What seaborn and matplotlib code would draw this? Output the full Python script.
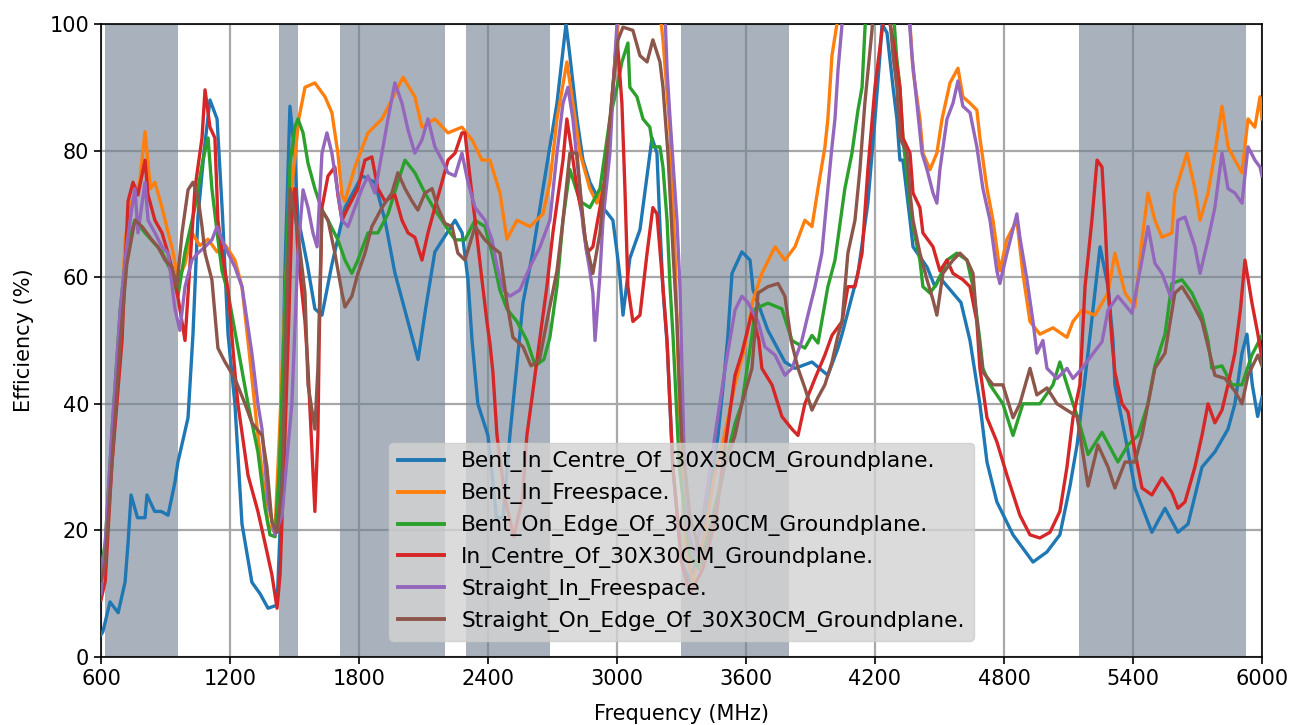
import pandas as pd
import matplotlib
matplotlib.use('Agg')
import matplotlib.pyplot as plt
import seaborn as sns

# Series names (as in the legend)
names = ['Bent_In_Centre_Of_30X30CM_Groundplane.',
         'Bent_In_Freespace.',
         'Bent_On_Edge_Of_30X30CM_Groundplane.',
         'In_Centre_Of_30X30CM_Groundplane.',
         'Straight_In_Freespace.',
         'Straight_On_Edge_Of_30X30CM_Groundplane.']

# Shaded frequency bands (MHz)
band_lo = [617, 1427, 1710, 2300, 3300, 5150]
band_hi = [960, 1518, 2200, 2690, 3800, 5925]

# Efficiency traces: frequency (MHz) / efficiency (%)
bent_centre_f = [600, 609, 642, 680, 712, 726, 740, 770, 805, 814, 850, 880, 912, 944, 958, 1005, 1028, 1051, 1080, 1107,
                 1140, 1165, 1191, 1223, 1256, 1302, 1340, 1377, 1419, 1433, 1455, 1479, 1500, 1516, 1560, 1595, 1628, 1674, 1735, 1814,
                 1874, 1921, 1967, 2028, 2075, 2110, 2153, 2247, 2280, 2307, 2326, 2353, 2400, 2440, 2470, 2502, 2563, 2609, 2656, 2721,
                 2763, 2781, 2814, 2842, 2874, 2935, 2981, 3000, 3014, 3028, 3060, 3107, 3140, 3163, 3186, 3200, 3214, 3233, 3260, 3300,
                 3340, 3400, 3470, 3502, 3516, 3535, 3581, 3619, 3633, 3702, 3781, 3828, 3907, 3981, 4028, 4047, 4121, 4167, 4200, 4223,
                 4233, 4256, 4284, 4302, 4316, 4330, 4363, 4377, 4442, 4479, 4500, 4550, 4600, 4642, 4688, 4721, 4767, 4842, 4935, 5000,
                 5060, 5107, 5140, 5163, 5191, 5247, 5284, 5307, 5316, 5363, 5409, 5488, 5549, 5609, 5656, 5721, 5781, 5842, 5874, 5907,
                 5930, 5955, 5980, 6000]
bent_centre_v = [3.5, 4, 8.7, 7, 11.8, 18, 25.6, 22, 22, 25.6, 23, 23, 22.4, 27.6, 30.8, 37.8, 51, 69.5, 80, 88,
                 85, 70, 51, 40, 21, 11.8, 10, 7.7, 8.2, 20, 60, 87, 80, 69.5, 62, 55, 54, 62, 71, 76,
                 75, 69, 60.7, 53, 47, 55, 64, 69, 67, 59.6, 50, 40, 35, 22, 22, 35, 56, 64, 74, 87.5,
                 100, 95, 85, 78.5, 75, 71, 69, 64, 60, 54, 63, 67.5, 76, 82, 79.6, 68, 58, 49.6, 30, 15,
                 12, 18, 35, 45.6, 50.8, 60.6, 64, 62.7, 58, 51.6, 46.6, 45.6, 46.6, 44.5, 48.8, 51, 60.6, 71.7, 85, 95,
                 100, 98.6, 90, 85, 78.5, 78.5, 69, 64.8, 61.6, 58.5, 60, 58, 56, 50, 40, 30.8, 24.5, 19.3, 15, 16.6,
                 19.3, 27, 33.5, 40, 48, 64.8, 58.5, 50, 43, 35, 26.7, 19.7, 23.5, 19.7, 21, 30, 32.4, 36, 40, 48,
                 51, 43, 38, 41]

bent_free_f = [600, 620, 642, 670, 698, 712, 744, 780, 805, 830, 851, 884, 935, 958, 990, 1023, 1060, 1098, 1140, 1180,
               1223, 1256, 1290, 1330, 1377, 1409, 1430, 1460, 1490, 1520, 1549, 1595, 1642, 1674, 1702, 1721, 1735, 1781, 1842, 1907,
               1967, 2005, 2060, 2093, 2153, 2214, 2279, 2326, 2372, 2409, 2456, 2488, 2535, 2595, 2656, 2688, 2721, 2767, 2795, 2828,
               2874, 2907, 2944, 2981, 3005, 3020, 3190, 3214, 3247, 3270, 3290, 3320, 3350, 3400, 3450, 3500, 3549, 3595, 3630, 3674,
               3735, 3781, 3828, 3874, 3907, 3935, 3967, 3981, 4000, 4023, 4040, 4350, 4363, 4377, 4409, 4423, 4456, 4488, 4512, 4549,
               4586, 4609, 4642, 4674, 4688, 4721, 4749, 4781, 4814, 4860, 4888, 4921, 4967, 5028, 5093, 5121, 5163, 5223, 5284, 5316,
               5363, 5409, 5442, 5470, 5502, 5535, 5581, 5595, 5628, 5651, 5688, 5712, 5749, 5781, 5814, 5842, 5874, 5907, 5935, 5967,
               5991, 6000]
bent_free_v = [14, 16, 27.6, 40, 55, 66, 72, 75, 83, 74, 75, 71, 64, 59.6, 62, 67, 65, 66, 64, 65,
               62.7, 58.5, 48, 35, 21, 19.7, 35, 60, 75, 85, 90, 90.7, 88.5, 86, 79.6, 73, 72, 77.4, 82.8, 85,
               89, 91.6, 88.5, 83.7, 85, 82.8, 83.7, 81.7, 78.5, 78.5, 73.3, 66, 69, 68, 70, 75, 85, 94, 87.5, 79.6,
               74, 71.7, 75, 90, 100, 105, 105, 97.5, 82.8, 63.8, 40, 18, 12, 18, 28, 35, 43, 49, 56, 60.6,
               64.8, 62.7, 64.8, 69, 68, 74, 80.5, 85, 95, 100, 105, 105, 100, 92.7, 85, 79.6, 77, 79.6, 85, 90.7,
               93, 88.5, 87.5, 86.4, 82, 74, 69, 61, 66, 69, 60.6, 53, 51, 52, 50.5, 53, 54.8, 54, 57.5, 63.8,
               57.5, 55.3, 65.9, 73.3, 69, 66.3, 67, 73.3, 77, 79.6, 74, 69, 73.3, 79.6, 87, 80.6, 78.5, 76.5, 85, 83.7,
               88.5, 85]

bent_edge_f = [600, 620, 650, 690, 720, 758, 805, 884, 930, 958, 991, 1037, 1074, 1098, 1116, 1144, 1163, 1191, 1237, 1284,
               1330, 1363, 1386, 1410, 1430, 1460, 1480, 1502, 1516, 1540, 1563, 1595, 1628, 1656, 1702, 1735, 1767, 1795, 1842, 1888,
               1935, 1981, 2014, 2060, 2107, 2153, 2186, 2214, 2247, 2293, 2340, 2386, 2419, 2455, 2488, 2535, 2581, 2620, 2660, 2688,
               2721, 2749, 2781, 2828, 2874, 2921, 2967, 3000, 3023, 3051, 3060, 3093, 3121, 3153, 3167, 3200, 3214, 3233, 3247, 3261,
               3290, 3340, 3380, 3430, 3500, 3550, 3581, 3628, 3642, 3702, 3767, 3814, 3874, 3907, 3935, 3981, 4014, 4060, 4093, 4121,
               4140, 4153, 4165, 4280, 4300, 4316, 4330, 4363, 4377, 4409, 4423, 4456, 4488, 4535, 4581, 4628, 4656, 4688, 4702, 4735,
               4795, 4842, 4888, 4967, 5028, 5060, 5093, 5121, 5144, 5191, 5256, 5330, 5377, 5423, 5470, 5502, 5549, 5581, 5628, 5674,
               5721, 5749, 5767, 5814, 5860, 5907, 5953, 6000]
bent_edge_v = [14, 18, 35, 55, 65, 69, 67, 64, 60.6, 57, 64, 71, 78.5, 82, 74, 66, 61, 57.5, 48.8, 40,
               32.4, 23.5, 19.3, 19, 30, 60, 78, 83.7, 85, 82.8, 78, 74, 70.6, 69, 65.9, 62.7, 60.6, 62.7, 67, 67,
               70, 75, 78.5, 76.5, 73.3, 70.6, 69, 67.5, 65.9, 65.9, 69, 68, 63.8, 58, 55, 53, 50, 46, 47, 50.5,
               58.5, 69, 77, 72, 71, 74, 85, 90, 94, 97, 90, 88.5, 85, 83.7, 80.6, 80.6, 77.4, 69, 58.5, 50.5,
               30, 16, 14, 20, 30, 37, 40, 50.8, 55, 55.9, 55, 50, 48.8, 50.8, 49.6, 58.5, 62.7, 74, 79.6, 86.4,
               90, 99, 105, 105, 95, 90, 82, 71.7, 68, 62.7, 58.5, 57.5, 59, 62.7, 63.8, 62.7, 58.5, 50, 45.6, 43,
               40, 35, 40, 40, 43, 46.6, 43, 40, 37.8, 32, 35.5, 30.8, 33.5, 35, 40, 46, 51, 59, 59.6, 57.5,
               54, 50, 45.6, 46, 43, 43, 47.7, 50.8]

centre_f = [600, 620, 650, 698, 726, 749, 772, 805, 819, 851, 884, 912, 944, 967, 991, 1010, 1037, 1070, 1084, 1107,
            1130, 1144, 1163, 1191, 1223, 1237, 1284, 1330, 1363, 1395, 1419, 1433, 1456, 1475, 1490, 1502, 1516, 1549, 1563, 1595,
            1609, 1615, 1628, 1656, 1688, 1702, 1721, 1749, 1795, 1828, 1860, 1888, 1921, 1967, 2000, 2028, 2060, 2093, 2121, 2153,
            2186, 2214, 2247, 2279, 2293, 2307, 2340, 2372, 2395, 2409, 2423, 2442, 2480, 2520, 2560, 2581, 2609, 2642, 2674, 2702,
            2749, 2767, 2791, 2814, 2842, 2860, 2888, 2921, 2953, 2981, 3000, 3023, 3037, 3051, 3074, 3107, 3140, 3167, 3186, 3214,
            3233, 3260, 3300, 3340, 3400, 3460, 3510, 3549, 3581, 3628, 3660, 3674, 3721, 3767, 3814, 3842, 3874, 3921, 3967, 4000,
            4047, 4074, 4107, 4140, 4167, 4200, 4233, 4250, 4270, 4284, 4316, 4330, 4363, 4377, 4409, 4423, 4470, 4502, 4535, 4563,
            4609, 4642, 4674, 4688, 4721, 4767, 4814, 4874, 4921, 4967, 5014, 5060, 5093, 5121, 5153, 5177, 5209, 5233, 5256, 5270,
            5284, 5302, 5316, 5349, 5377, 5409, 5442, 5488, 5535, 5581, 5609, 5642, 5688, 5721, 5749, 5781, 5814, 5842, 5874, 5900,
            5921, 5953, 5981, 6000]
centre_v = [9, 12, 30, 50, 72, 75, 73, 78.5, 73, 69, 67, 63.8, 59.6, 55, 50, 60, 74, 82, 89.6, 83.7,
            82, 69, 64, 58, 45, 40, 28.7, 23, 18, 13, 7.7, 13, 35, 55, 72, 74, 63.8, 53, 45.6, 23,
            35, 50, 71, 76, 77.4, 73, 69, 71, 74, 78.5, 79, 74, 72, 73, 69, 67, 66.3, 62.7, 67, 71,
            75, 78.5, 79.6, 82.8, 82.8, 78.5, 69, 59.6, 53, 49.6, 45, 35, 25, 19, 25, 35, 42, 50.5, 58.5, 67,
            78.5, 85, 79.6, 74, 69, 63.8, 64.8, 71, 77, 90, 98, 87.5, 74, 58.5, 53, 54, 63.8, 71, 70, 58.5,
            50, 30, 15, 10, 14, 22, 35, 44.5, 48, 54.5, 50, 45.6, 43, 38, 36, 35, 40, 44, 47.7, 50.8,
            53, 58.5, 58.5, 63.8, 77, 90, 99, 103, 100, 97.5, 90, 82, 79.6, 73.3, 71, 67, 64.8, 61, 62.7, 60.6,
            59.6, 58.5, 53, 45.6, 37.8, 34, 28.7, 22.4, 19.3, 18.8, 19.7, 23, 30, 37.8, 43, 58.5, 69, 78.5, 77.4, 69,
            58.5, 50, 45, 40, 38.7, 32.4, 26.7, 25.6, 28.3, 26, 23.5, 24.5, 30, 35, 40, 37, 39, 43, 48, 55,
            62.7, 56, 51, 47]

straight_free_f = [600, 620, 650, 690, 720, 744, 758, 772, 805, 819, 851, 884, 912, 944, 967, 991, 1023, 1051, 1084, 1116,
                   1140, 1163, 1191, 1223, 1256, 1302, 1330, 1349, 1377, 1409, 1442, 1488, 1516, 1540, 1563, 1586, 1605, 1628, 1651, 1674,
                   1688, 1721, 1749, 1781, 1814, 1842, 1874, 1907, 1935, 1967, 2000, 2028, 2060, 2093, 2121, 2153, 2186, 2214, 2247, 2279,
                   2307, 2340, 2386, 2419, 2440, 2470, 2502, 2549, 2595, 2642, 2688, 2721, 2749, 2772, 2795, 2814, 2828, 2842, 2860, 2874,
                   2888, 2898, 2920, 2935, 2967, 2991, 3000, 3010, 3220, 3233, 3247, 3279, 3293, 3310, 3330, 3360, 3400, 3456, 3500, 3549,
                   3581, 3609, 3656, 3688, 3735, 3781, 3814, 3860, 3888, 3921, 3953, 3981, 4000, 4014, 4028, 4047, 4060, 4350, 4372, 4395,
                   4419, 4442, 4470, 4488, 4502, 4535, 4563, 4586, 4609, 4642, 4674, 4702, 4735, 4767, 4781, 4814, 4860, 4874, 4907, 4935,
                   4953, 4981, 5000, 5047, 5093, 5121, 5163, 5209, 5256, 5284, 5330, 5395, 5442, 5470, 5502, 5535, 5581, 5609, 5642, 5688,
                   5712, 5749, 5781, 5814, 5842, 5874, 5907, 5935, 5967, 5991, 6000]
straight_free_v = [10, 18, 35, 55, 65, 71, 74, 67, 75, 69, 67, 64.8, 63.8, 55, 51.6, 58.5, 62.7, 63.8, 64.8, 65.9,
                   68, 65.9, 63.8, 61.6, 58.5, 48, 40, 36, 24.5, 19.3, 22.4, 40, 63.8, 73.8, 71, 67, 64.8, 79.6, 82.8, 79.6,
                   76.5, 69, 68, 71, 74, 76, 73.3, 79.6, 85, 90.7, 87.5, 83.3, 79.6, 81.7, 85, 80.6, 78.5, 76.5, 76, 79.6,
                   75, 71, 69, 65.9, 62, 58, 57, 58, 61.6, 64.8, 69, 79.6, 87.5, 90, 85, 78.5, 74, 68, 63.8, 61,
                   57.5, 50, 60, 69, 79.6, 95, 100, 105, 105, 92.7, 85, 69, 58.5, 35, 20, 16, 22, 35, 45, 54.8,
                   57, 56, 53, 49, 47.7, 44.5, 45.6, 50, 54, 58.5, 63.8, 74, 80.6, 85, 92.7, 100, 105, 105, 95, 87.5,
                   79.6, 77, 73.3, 71.7, 77, 85, 87.5, 91, 87, 86, 80.6, 74, 69, 61, 59, 63.8, 70, 66.3, 59.6, 53,
                   48, 50, 45.6, 44, 45.6, 44, 45.6, 47.7, 49.8, 54.8, 57, 54.3, 62.7, 68, 62.2, 60.6, 56.4, 69, 69.5, 64.8,
                   60.6, 65.9, 71, 79.6, 74, 73.3, 71.7, 80.6, 78.5, 77.4, 76]

straight_edge_f = [600, 620, 650, 690, 720, 758, 791, 837, 865, 898, 930, 953, 977, 1005, 1028, 1051, 1070, 1084, 1116, 1144,
                   1177, 1223, 1270, 1302, 1349, 1372, 1395, 1419, 1442, 1460, 1480, 1516, 1549, 1563, 1595, 1609, 1628, 1656, 1688, 1721,
                   1735, 1767, 1795, 1828, 1860, 1907, 1953, 1981, 2014, 2047, 2074, 2107, 2140, 2167, 2200, 2233, 2260, 2293, 2340, 2386,
                   2419, 2456, 2488, 2516, 2563, 2600, 2640, 2674, 2721, 2749, 2781, 2814, 2828, 2851, 2874, 2888, 2921, 2953, 2981, 3005,
                   3028, 3074, 3107, 3140, 3167, 3200, 3214, 3237, 3261, 3279, 3300, 3340, 3400, 3450, 3500, 3549, 3581, 3628, 3656, 3702,
                   3749, 3781, 3810, 3842, 3874, 3907, 3935, 3967, 4000, 4028, 4047, 4074, 4107, 4130, 4153, 4186, 4200, 4260, 4284, 4302,
                   4316, 4349, 4363, 4377, 4409, 4442, 4470, 4488, 4516, 4563, 4595, 4628, 4656, 4674, 4702, 4749, 4795, 4842, 4874, 4921,
                   4953, 5000, 5047, 5093, 5140, 5191, 5237, 5284, 5316, 5363, 5409, 5442, 5470, 5502, 5549, 5595, 5628, 5674, 5721, 5767,
                   5781, 5828, 5874, 5907, 5935, 5981, 6000]
straight_edge_v = [12, 15, 30, 50, 62, 69, 68, 65.9, 64.8, 62.7, 61.6, 58.5, 67, 73.8, 75, 72.7, 68, 63.8, 59.6, 48.8,
                   46.6, 44, 40, 37, 35, 30, 21.3, 19.7, 27, 51, 74, 67, 57.5, 43, 36, 45.6, 70.6, 69, 63.8, 57.5,
                   55.3, 57, 60.6, 63.8, 68, 71, 73.3, 76.5, 74, 72, 70.6, 73.3, 74, 71, 68.5, 68, 63.8, 62.7, 68, 65.9,
                   64.8, 63.8, 56, 50.5, 49, 46, 47, 53, 61, 69, 79.6, 79.6, 74, 66.3, 62.7, 60.6, 67, 79.6, 90, 97.5,
                   99.5, 99, 95, 94, 97.5, 94, 90, 79.6, 63.8, 53, 35, 22, 15, 22, 30, 35, 40, 45.6, 57.5, 58.5,
                   59, 57, 50, 45.6, 42.5, 39, 41, 43, 46.6, 50.8, 53, 63.8, 69, 77, 87.5, 99, 105, 105, 95, 90,
                   82, 79.6, 73.3, 69, 63.8, 59.6, 56.4, 54, 60.6, 62.7, 63.8, 62.7, 60.6, 53, 45, 43, 43, 37.8, 40, 45.6,
                   41.4, 42.5, 40, 39, 38, 27, 33.5, 30, 26.7, 30.8, 30.8, 35, 40, 45.6, 48, 57.5, 58.5, 56, 53, 46.6,
                   44.5, 44, 42, 40, 44.5, 47.7, 46]

freqs = [bent_centre_f, bent_free_f, bent_edge_f, centre_f, straight_free_f, straight_edge_f]
effs = [bent_centre_v, bent_free_v, bent_edge_v, centre_v, straight_free_v, straight_edge_v]

df = pd.concat([pd.DataFrame({'Frequency (MHz)': f, 'Efficiency (%)': v, 'Antenna': n})
                for f, v, n in zip(freqs, effs, names)], ignore_index=True)

fig = plt.figure(figsize=(13.01, 7.25), dpi=100)
ax = fig.add_axes([0.0776, 0.0938, 0.8924, 0.8731])
ax.set_axisbelow(True)
ax.grid(True, color='#a8a8a8', linewidth=1.6)

for lo, hi in zip(band_lo, band_hi):
    ax.axvspan(lo, hi, color='slategray', alpha=0.6, lw=0, zorder=1.8)

sns.lineplot(data=df, x='Frequency (MHz)', y='Efficiency (%)', hue='Antenna',
             hue_order=names, palette='tab10', estimator=None, sort=True,
             linewidth=2.4, ax=ax, zorder=3)

ax.set_xlim(600, 6000)
ax.set_ylim(0, 100)
ax.set_xticks(range(600, 6001, 600))
ax.set_yticks(range(0, 101, 20))
ax.tick_params(labelsize=15, width=1.2, length=5)
ax.set_xlabel('Frequency (MHz)', fontsize=15, labelpad=11)
ax.set_ylabel('Efficiency (%)', fontsize=15, labelpad=11)
for s in ax.spines.values():
    s.set_color('black')
    s.set_linewidth(1.2)

leg = ax.legend(loc='lower center', fontsize=15.7, facecolor='lightgray', framealpha=0.8,
                handlelength=2.1, borderaxespad=0.75)
for line in leg.get_lines():
    line.set_linewidth(2.8)

fig.savefig('out.png', dpi=100)
